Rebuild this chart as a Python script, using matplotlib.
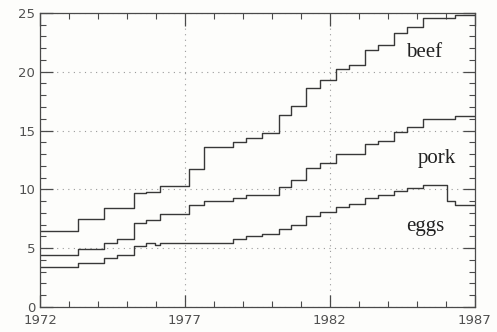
import numpy as np
import matplotlib.pyplot as plt
from matplotlib.ticker import MultipleLocator, FixedLocator

# step start times (years) shared by the three series
years = [1972.0, 1973.3, 1974.2, 1974.65, 1975.25, 1975.65, 1975.95, 1976.15,
         1977.15, 1977.67, 1978.67, 1979.1, 1979.67, 1980.25, 1980.67, 1981.17,
         1981.65, 1982.2, 1982.67, 1983.2, 1983.67, 1984.2, 1984.67, 1985.2,
         1986.05, 1986.3]
end_year = 1987.0

beef = [6.5, 7.5, 8.4, 8.4, 9.7, 9.75, 9.8, 10.3,
        11.7, 13.6, 14.0, 14.35, 14.8, 16.3, 17.1, 18.6,
        19.3, 20.25, 20.6, 21.85, 22.25, 23.25, 23.8, 24.55,
        24.55, 24.8]
pork = [4.4, 4.9, 5.45, 5.8, 7.1, 7.4, 7.4, 7.9,
        8.7, 9.0, 9.25, 9.5, 9.5, 10.2, 10.8, 11.8,
        12.2, 13.0, 13.0, 13.85, 14.15, 14.85, 15.3, 15.95,
        15.95, 16.2]
eggs = [3.4, 3.75, 4.15, 4.4, 5.2, 5.4, 5.28, 5.45,
        5.45, 5.45, 5.75, 6.05, 6.2, 6.65, 7.0, 7.7,
        8.05, 8.5, 8.75, 9.25, 9.5, 9.9, 10.1, 10.4,
        9.0, 8.7]

x_ticks = [1972, 1977, 1982, 1987]
labels = {"beef": (1985.25, 21.6), "pork": (1985.7, 12.6), "eggs": (1985.3, 6.8)}

line_col = "#383838"
axis_col = "#4a4a4a"

fig = plt.figure(figsize=(4.97, 3.32), dpi=100)
fig.patch.set_facecolor("#fdfdfb")
ax = fig.add_axes([0.0805, 0.0753, 0.875, 0.886])
ax.set_facecolor("#fdfdfb")

x = years + [end_year]
for series in (beef, pork, eggs):
    ax.step(x, series + [series[-1]], where="post", color=line_col, lw=1.0)

for name, (tx, ty) in labels.items():
    ax.text(tx, ty, name, ha="center", va="center", fontsize=15,
            family="Liberation Serif", color="#222222")

ax.set_xlim(1972, 1987)
ax.set_ylim(0, 25)
ax.xaxis.set_major_locator(FixedLocator(x_ticks))
ax.xaxis.set_minor_locator(MultipleLocator(1))
ax.yaxis.set_major_locator(MultipleLocator(5))
ax.yaxis.set_minor_locator(MultipleLocator(1))
ax.grid(True, which="major", linestyle=(0, (1, 4)), color="#9a9a9a", lw=0.8)

ax.tick_params(which="both", direction="in", top=True, right=True,
               color=axis_col, labelcolor="#505050", labelsize=9.5)
ax.tick_params(which="major", length=9, width=0.9)
ax.tick_params(which="minor", length=4, width=0.8)
ax.tick_params(axis="x", pad=5)
for sp in ax.spines.values():
    sp.set_color(axis_col)
    sp.set_linewidth(0.9)

fig.savefig("out.png", dpi=100, facecolor=fig.get_facecolor())
